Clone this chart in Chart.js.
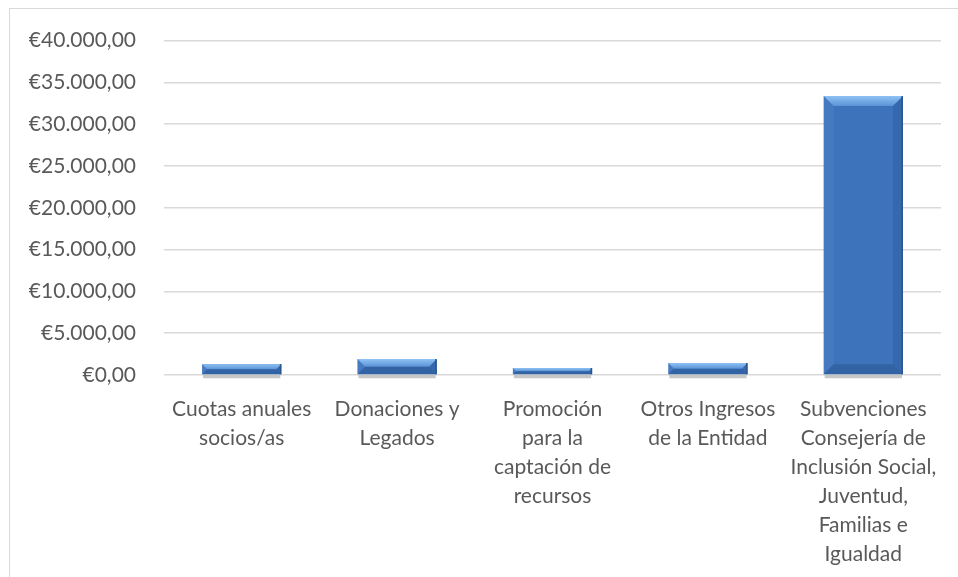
<!DOCTYPE html>
<html>
<head>
<meta charset="utf-8">
<script src="https://cdn.jsdelivr.net/npm/chart.js@4"></script>
<style>
  html, body { margin: 0; padding: 0; background: #fff; overflow: hidden; }
  #wrap { position: relative; width: 958px; height: 577px; }
  #frame { position: absolute; left: 9px; top: 8px; width: 970px; height: 600px; border: 1px solid #d9d9d9; }
  canvas { position: absolute; left: 0; top: 0; }
</style>
</head>
<body>
<div id="wrap">
  <div id="frame"></div>
  <canvas id="ingresos" width="958" height="577"></canvas>
</div>
<script>
// categories (wrapped the way the original draws them)
var categorias = [
    ["Cuotas anuales", "socios/as"],
    ["Donaciones y", "Legados"],
    ["Promoción", "para la", "captación de", "recursos"],
    ["Otros Ingresos", "de la Entidad"],
    ["Subvenciones", "Consejería de", "Inclusión Social,", "Juventud,", "Familias e", "Igualdad"]
];
// amounts in euros
var importes = [1300, 1900, 830, 1430, 33370];
// y axis
var ejeMin = 0;
var ejeMax = 40000;
var ejePaso = 5000;

var textColor = '#595959';
var gridColor = '#d9d9d9';
var fontName = 'Lato';

// €40.000,00 style
function euros(v) {
    var entero = Math.round(v).toString().replace(/\B(?=(\d{3})+(?!\d))/g, '.');
    return '€' + entero + ',00';
}

// bevel look of the office-style bars
var bisel = {
    id: 'bisel',
    afterDatasetsDraw: function (chart) {
        var ctx = chart.ctx;
        var meta = chart.getDatasetMeta(0);
        meta.data.forEach(function (bar) {
            var p = bar.getProps(['x', 'y', 'base', 'width'], true);
            var l = p.x - p.width / 2, r = p.x + p.width / 2;
            var t = p.y, b = p.base;
            var h = b - t;
            var d = Math.min(10, h / 2);
            ctx.save();
            // shadow under the bar
            ctx.fillStyle = 'rgba(0,0,0,0.22)';
            ctx.fillRect(l + 1, b + 1, p.width - 2, 3);
            // top facet
            var g = ctx.createLinearGradient(0, t, 0, t + d);
            g.addColorStop(0, '#8fc2f3');
            g.addColorStop(1, '#5a93d8');
            ctx.fillStyle = g;
            ctx.beginPath();
            ctx.moveTo(l, t);
            ctx.lineTo(r, t);
            ctx.lineTo(r - d, t + d);
            ctx.lineTo(l + d, t + d);
            ctx.closePath();
            ctx.fill();
            // left facet
            ctx.fillStyle = 'rgba(120,170,230,0.15)';
            ctx.beginPath();
            ctx.moveTo(l, t);
            ctx.lineTo(l + d, t + d);
            ctx.lineTo(l + d, b - d);
            ctx.lineTo(l, b);
            ctx.closePath();
            ctx.fill();
            // right facet
            ctx.fillStyle = 'rgba(20,50,100,0.15)';
            ctx.beginPath();
            ctx.moveTo(r, t);
            ctx.lineTo(r - d, t + d);
            ctx.lineTo(r - d, b - d);
            ctx.lineTo(r, b);
            ctx.closePath();
            ctx.fill();
            // bottom facet
            ctx.fillStyle = 'rgba(20,50,100,0.25)';
            ctx.beginPath();
            ctx.moveTo(l, b);
            ctx.lineTo(l + d, b - d);
            ctx.lineTo(r - d, b - d);
            ctx.lineTo(r, b);
            ctx.closePath();
            ctx.fill();
            // dark outline on the right
            ctx.fillStyle = '#2a5590';
            ctx.fillRect(r - 1.5, t, 1.5, h);
            ctx.restore();
        });
    }
};

new Chart('ingresos', {
    type: 'bar',
    data: {
        labels: categorias,
        datasets: [{
            data: importes,
            backgroundColor: '#3d73ba',
            borderWidth: 0,
            barPercentage: 0.51,
            categoryPercentage: 1
        }]
    },
    options: {
        responsive: false,
        animation: false,
        events: [],
        layout: { padding: { left: 0, right: 17, top: 38, bottom: 0 } },
        plugins: {
            legend: { display: false },
            tooltip: { enabled: false }
        },
        scales: {
            x: {
                grid: { display: false },
                border: { display: false },
                ticks: {
                    color: textColor,
                    font: { family: fontName, size: 21, lineHeight: 1.38 },
                    padding: 12,
                    maxRotation: 0,
                    autoSkip: false
                },
                afterFit: function (s) { s.height = 202; }
            },
            y: {
                min: ejeMin,
                max: ejeMax,
                grid: { color: gridColor, lineWidth: 1.5, drawTicks: false },
                border: { display: false },
                ticks: {
                    stepSize: ejePaso,
                    color: textColor,
                    font: { family: fontName, size: 21 },
                    padding: 28,
                    callback: function (v) { return euros(v); }
                },
                afterFit: function (s) { s.width = 164; }
            }
        }
    },
    plugins: [bisel]
});
</script>
</body>
</html>
